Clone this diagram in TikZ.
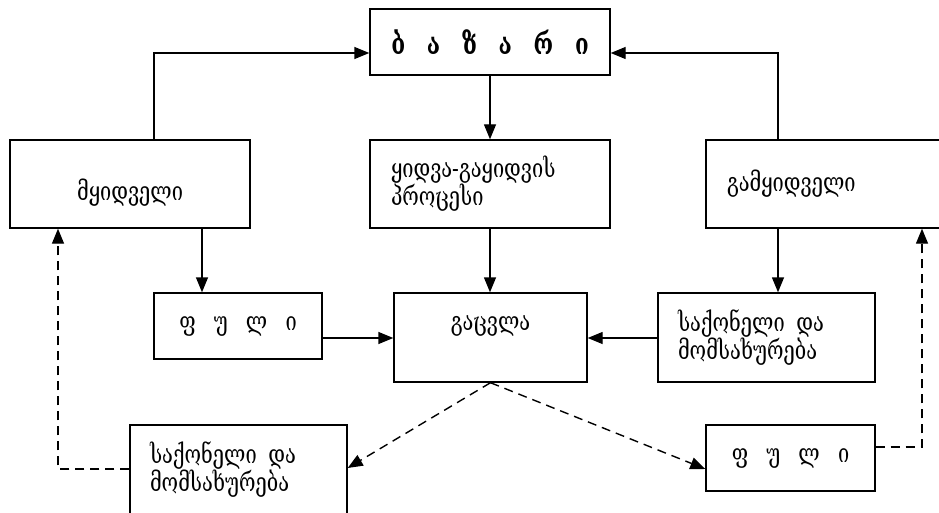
\documentclass[tikz,border=0pt]{standalone}
\usepackage{fontspec}
\setmainfont{DejaVu Serif}[FakeStretch=0.77]
\usetikzlibrary{arrows.meta}
\begin{document}
\begin{tikzpicture}[x=1pt,y=-1pt,
  box/.style={draw,line width=1.4pt,inner sep=0pt,align=center,font=\fontsize{26}{28}\selectfont},
  arr/.style={line width=1.4pt,-{Triangle[length=15pt,width=12pt]}},
  darr/.style={arr,dash pattern=on 9pt off 6pt},
  dline/.style={line width=1.4pt,dash pattern=on 9pt off 6pt}]
\useasboundingbox (0,0) rectangle (939,513);
\clip (0,0) rectangle (939,513);
\node[box,minimum width=240pt,minimum height=66pt,font=\fontsize{29}{30}\selectfont\bfseries] (bazari) at (490,42) {ბ\hspace{0.75em}ა\hspace{0.75em}ზ\hspace{0.75em}ა\hspace{0.75em}რ\hspace{0.75em}ი};
\node[box,minimum width=240pt,minimum height=88pt] (buyer) at (130,184) {\raisebox{-9pt}[\height][\depth]{მყიდველი}};
\node[box,minimum width=240pt,minimum height=88pt,text width=198pt,align=left] (process) at (490,184) {ყიდვა-გაყიდვის\\პროცესი};
\node[box,minimum width=240pt,minimum height=88pt,text width=198pt,align=left] (seller) at (826,184) {გამყიდველი};
\node[box,minimum width=168pt,minimum height=66pt] (money1) at (238,326) {ფ\hspace{0.7em}უ\hspace{0.7em}ლ\hspace{0.7em}ი};
\node[box,minimum width=193pt,minimum height=89pt] (exch) at (490.5,337.5) {გაცვლა\\\mbox{}};
\node[box,minimum width=217pt,minimum height=89pt,text width=177pt,align=left] (goods1) at (766.5,337.5) {საქონელი\hspace{0.45em}და\\მომსახურება};
\node[box,minimum width=217pt,minimum height=89pt,text width=177pt,align=left] (goods2) at (238.5,469.5) {საქონელი\hspace{0.45em}და\\მომსახურება};
\node[box,minimum width=169pt,minimum height=66pt] (money2) at (790.5,458) {ფ\hspace{0.7em}უ\hspace{0.7em}ლ\hspace{0.7em}ი};
% solid connectors
\draw[arr] (154,0 |- buyer.north) |- (bazari.west |- 0,53);
\draw[arr] (778,0 |- seller.north) |- (bazari.east |- 0,53);
\draw[arr] (bazari.south) -- (bazari.south |- process.north);
\draw[arr] (202,0 |- buyer.south) -- (202,0 |- money1.north);
\draw[arr] (process.south) -- (process.south |- exch.north);
\draw[arr] (778,0 |- seller.south) -- (778,0 |- goods1.north);
\draw[arr] (money1.east |- 0,338) -- (exch.west |- 0,338);
\draw[arr] (goods1.west |- 0,338) -- (exch.east |- 0,338);
% dashed connectors
\draw[darr] (exch.south) -- (goods2.east |- 0,468);
\draw[darr] (exch.south) -- (money2.west |- 0,469);
\draw[darr] (goods2.west |- 0,469) -| (58,0 |- buyer.south);
\draw[darr] (money2.east |- 0,447) -| (922,0 |- seller.south);
\end{tikzpicture}
\end{document}
